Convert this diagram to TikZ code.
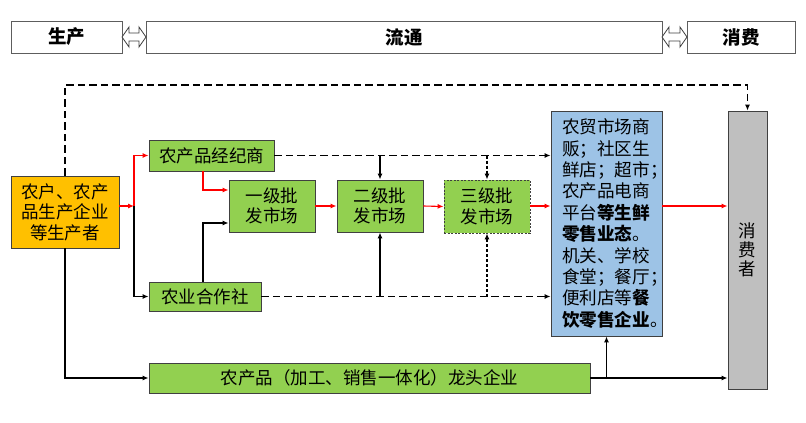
\documentclass[tikz,border=0pt]{standalone}
\usepackage{fontspec}
\setmainfont{Noto Sans CJK SC}
\usetikzlibrary{arrows.meta}
\definecolor{bord}{HTML}{404040}
\definecolor{grn}{HTML}{92D050}
\definecolor{blu}{HTML}{9DC3E6}
\definecolor{gry}{HTML}{BFBFBF}
\definecolor{org}{HTML}{FFC000}
\definecolor{redl}{HTML}{FF0000}
\tikzset{
  box/.style={draw=bord, line width=0.9pt, inner sep=0pt, align=center, font=\fontsize{17.5}{20.5}\selectfont},
  gbox/.style={box, fill=grn},
  head/.style={draw=bord!85, line width=0.8pt, inner sep=0pt, minimum height=32pt, font=\fontsize{18.5}{20}\selectfont\bfseries},
  conn/.style={line width=1.1pt, -{Latex[length=6pt,width=5pt]}},
  rconn/.style={conn, draw=redl, -{Latex[length=6pt,width=5pt,fill=redl]}},
  dconn/.style={conn, dash pattern=on 7.5pt off 4pt},
  fconn/.style={conn, dash pattern=on 3pt off 2pt},
  dbl/.style={draw=bord, fill=white, line width=0.8pt},
}
\begin{document}
\begin{tikzpicture}[x=1pt,y=-1pt]
\useasboundingbox (0,0) rectangle (806,423);
% header
\node[head, minimum width=111pt] (h1) at (66.5,37) {生产};
\node[head, minimum width=516pt] (h2) at (404,37) {流通};
\node[head, minimum width=108pt] (h3) at (741,37) {消费};
\draw[dbl] (122,37) -- (129,27) -- (129,33) -- (139,33) -- (139,27) -- (146,37) -- (139,47) -- (139,41) -- (129,41) -- (129,47) -- cycle;
\draw[dbl] (662,37) -- (669,27) -- (669,33) -- (680,33) -- (680,27) -- (687,37) -- (680,47) -- (680,41) -- (669,41) -- (669,47) -- cycle;
% nodes
\node[box, fill=org, minimum width=108pt, minimum height=72pt] (prod) at (65,212) {农户、农产\\品生产企业\\等生产者};
\node[gbox, minimum width=125pt, minimum height=31pt] (jjs) at (211.5,155.5) {农产品经纪商};
\node[gbox, minimum width=86pt, minimum height=52pt] (yj) at (272,206) {一级批\\发市场};
\node[gbox, minimum width=86pt, minimum height=52pt] (ej) at (380,206) {二级批\\发市场};
\node[gbox, dash pattern=on 2pt off 1.5pt, minimum width=86pt, minimum height=53pt] (sj) at (487,206.5) {三级批\\发市场};
\node[box, fill=blu, minimum width=111pt, minimum height=225pt, text width=89pt, align=left, font=\fontsize{17.6}{21.4}\selectfont] (blue) at (606.5,223.5)
  {农贸市场商\\贩；社区生\\鲜店；超市；\\农产品电商\\平台{\bfseries 等生鲜}\\{\bfseries 零售业态}。\\机关、学校\\食堂；餐厅；\\便利店等{\bfseries 餐}\\{\bfseries 饮零售企业}\rlap{。}};
\node[box, fill=gry, minimum width=39pt, minimum height=278pt, font=\fontsize{17.5}{19}\selectfont] (cons) at (747.5,250) {消\\费\\者};
\node[gbox, minimum width=112pt, minimum height=29pt] (hzs) at (205,296.5) {农业合作社};
\node[gbox, minimum width=441pt, minimum height=30pt] (lt) at (369.5,378) {农产品（加工、销售一体化）龙头企业};
% connectors
\coordinate (top) at (65,85);
\draw[dconn] (prod.north) -- (top) -| (cons.north);
\coordinate (j1) at (134,206);
\draw[rconn] (prod.east |- j1) -- (j1);
\draw[rconn] (j1) |- (jjs.west);
\draw[conn] (j1) |- (hzs.west);
\coordinate (c1) at (203,190);
\draw[rconn] (jjs.south -| c1) -- (c1) -- (yj.west |- c1);
\coordinate (c2) at (203,223);
\draw[conn] (hzs.north -| c2) -- (c2) -- (yj.west |- c2);
\draw[rconn] (yj.east) -- (ej.west);
\draw[rconn] (ej.east) -- (sj.west);
\draw[rconn] (sj.east |- yj.east) -- (blue.west |- yj.east);
\draw[rconn] (blue.east |- yj.east) -- (cons.west |- yj.east);
\draw[dconn] (jjs.east) -- (blue.west |- jjs.east);
\draw[conn] (ej.north |- jjs.east) -- (ej.north);
\draw[fconn] (sj.north |- jjs.east) -- (sj.north);
\draw[dconn] (hzs.east) -- (blue.west |- hzs.east);
\draw[conn] (ej.south |- hzs.east) -- (ej.south);
\draw[fconn] (sj.south |- hzs.east) -- (sj.south);
\draw[conn] (prod.south) |- (lt.west);
\draw[conn] (lt.east) -- (cons.west |- lt.east);
\draw[conn] (blue.south |- lt.east) -- (blue.south);
\end{tikzpicture}
\end{document}
